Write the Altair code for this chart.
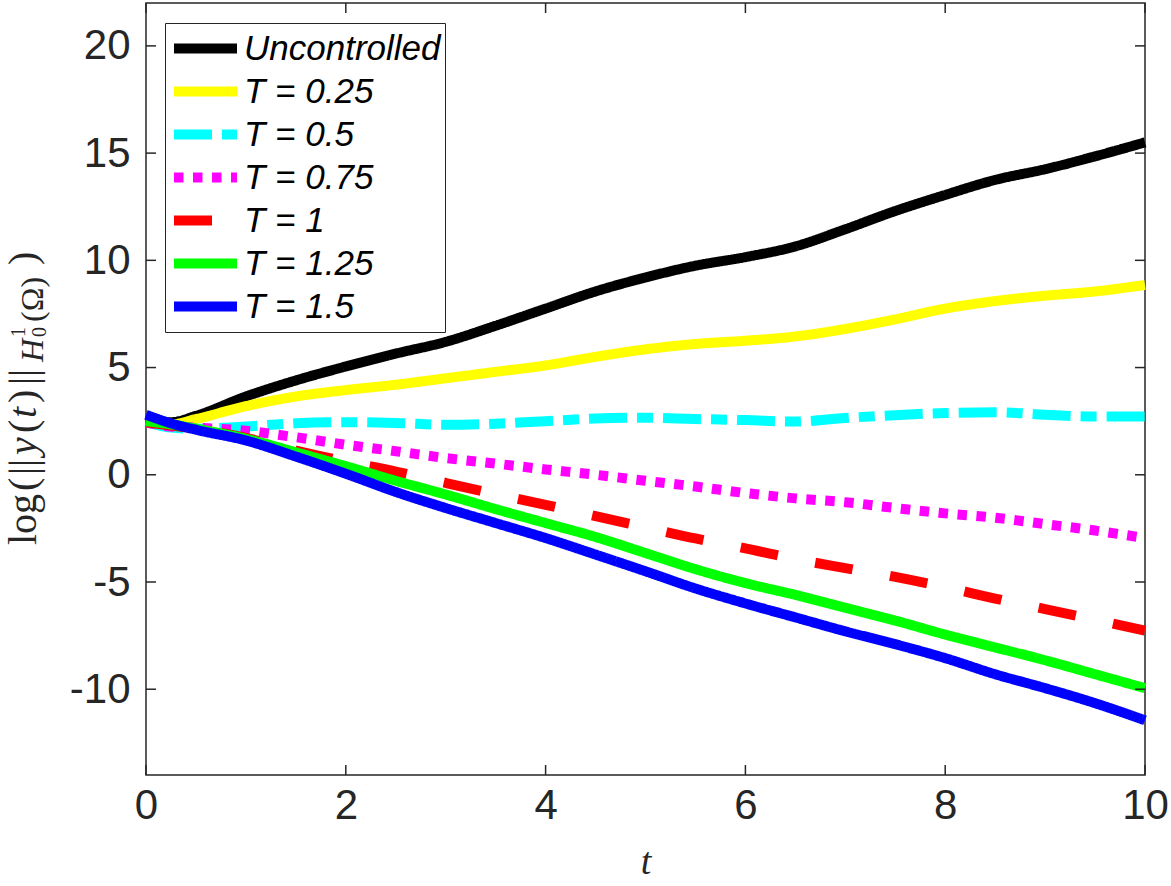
import altair as alt
import pandas as pd

# Time grid and log-norm trajectories for each control horizon
t = [0, 0.25, 0.5, 1, 1.5, 2, 2.5, 3, 3.5, 4, 4.5, 5, 5.5, 6, 6.5, 7, 7.5, 8, 8.5, 9, 9.5, 10]

uncontrolled = [2.5, 2.45, 2.75, 3.65, 4.4, 5.05, 5.65, 6.2, 6.95, 7.75, 8.55, 9.2, 9.75, 10.15,
                10.65, 11.45, 12.3, 13.05, 13.75, 14.25, 14.85, 15.5]
t_025 = [2.45, 2.35, 2.6, 3.2, 3.65, 3.95, 4.2, 4.5, 4.8, 5.1, 5.5, 5.85, 6.1, 6.25, 6.45, 6.8,
         7.25, 7.75, 8.1, 8.35, 8.55, 8.85]
t_05 = [2.45, 2.2, 2.15, 2.25, 2.4, 2.45, 2.42, 2.33, 2.38, 2.5, 2.62, 2.66, 2.6, 2.55, 2.48,
        2.65, 2.78, 2.88, 2.92, 2.8, 2.72, 2.72]
t_075 = [2.45, 2.25, 2.2, 2.05, 1.75, 1.4, 1.1, 0.78, 0.52, 0.25, 0.0, -0.28, -0.55, -0.85, -1.1,
         -1.28, -1.55, -1.8, -2.0, -2.3, -2.6, -2.95]
t_1 = [2.45, 2.3, 2.15, 1.72, 1.13, 0.62, 0.15, -0.38, -0.9, -1.4, -1.93, -2.45, -2.97, -3.43,
       -3.93, -4.35, -4.76, -5.24, -5.77, -6.26, -6.76, -7.27]
t_125 = [2.5, 2.35, 2.15, 1.68, 1.05, 0.4, -0.28, -0.92, -1.6, -2.25, -2.9, -3.65, -4.4, -5.05,
         -5.6, -6.2, -6.8, -7.45, -8.05, -8.65, -9.3, -9.95]
t_15 = [2.8, 2.4, 2.1, 1.6, 0.85, 0.05, -0.8, -1.55, -2.25, -2.95, -3.72, -4.5, -5.3, -6.0,
        -6.65, -7.3, -7.9, -8.55, -9.3, -9.95, -10.65, -11.45]

series_names = ["Uncontrolled", "T = 0.25", "T = 0.5", "T = 0.75", "T = 1", "T = 1.25", "T = 1.5"]
series_values = [uncontrolled, t_025, t_05, t_075, t_1, t_125, t_15]
series_colors = ["#000000", "#FFFF00", "#00FFFF", "#FF00FF", "#FF0000", "#00FF00", "#0000FF"]
series_dashes = [[1, 0], [1, 0], [38, 10, 16, 10], [9.5, 9.5], [38, 38], [1, 0], [1, 0]]

x_ticks = [0, 2, 4, 6, 8, 10]
y_ticks = [-10, -5, 0, 5, 10, 15, 20]

W, H = 999, 772
TICK = 10
AXIS_GREY = "#262626"

rows = []
for name, vals in zip(series_names, series_values):
    for ti, v in zip(t, vals):
        rows.append({"t": ti, "value": v, "series": name})
df = pd.DataFrame(rows)

x_scale = alt.Scale(domain=[0, 10], nice=False)
y_scale = alt.Scale(domain=[-14, 22], nice=False)

lines = alt.Chart(df).mark_line(strokeWidth=10, strokeJoin="round", interpolate="monotone").encode(
    x=alt.X("t:Q", scale=x_scale,
            axis=alt.Axis(values=x_ticks, title="t", ticks=False, domain=False, grid=False,
                          labelFlush=False, labelExpr="'' + datum.value",
                          labelPadding=10, titlePadding=17)),
    y=alt.Y("value:Q", scale=y_scale,
            axis=alt.Axis(values=y_ticks, title=None, ticks=False, domain=False, grid=False,
                          labelFlush=False, labelExpr="'' + datum.value", labelPadding=16)),
    color=alt.Color("series:N", scale=alt.Scale(domain=series_names, range=series_colors),
                    legend=alt.Legend(orient="none", legendX=19, legendY=20, title=None,
                                      symbolType="stroke", symbolSize=63 * 63,
                                      symbolStrokeWidth=10, clipHeight=43, rowPadding=0,
                                      labelOffset=2, padding=4,
                                      labelFont="Liberation Sans", labelFontSize=35,
                                      labelFontStyle="italic", labelColor="#000000",
                                      strokeColor=AXIS_GREY, fillColor="#FFFFFF",
                                      labelLimit=400)),
    strokeDash=alt.StrokeDash("series:N",
                              scale=alt.Scale(domain=series_names, range=series_dashes),
                              legend=None),
    detail="series:N",
)

# Inward tick marks on all four sides of the frame
xt = pd.DataFrame({"t": x_ticks})
yt = pd.DataFrame({"value": y_ticks})

tick_style = dict(color=AXIS_GREY, strokeWidth=1.5)
ticks_bottom = alt.Chart(xt).mark_rule(**tick_style).encode(
    x=alt.X("t:Q", scale=x_scale), y=alt.value(H - TICK), y2=alt.value(H))
ticks_top = alt.Chart(xt).mark_rule(**tick_style).encode(
    x=alt.X("t:Q", scale=x_scale), y=alt.value(0), y2=alt.value(TICK))
ticks_left = alt.Chart(yt).mark_rule(**tick_style).encode(
    y=alt.Y("value:Q", scale=y_scale), x=alt.value(0), x2=alt.value(TICK))
ticks_right = alt.Chart(yt).mark_rule(**tick_style).encode(
    y=alt.Y("value:Q", scale=y_scale), x=alt.value(W - TICK), x2=alt.value(W))

# Y axis title typeset from rotated pieces: (text, start along the axis, baseline offset,
# font size, italic)
ylabel_pieces = [
    ("log", 542, -110, 40, False),
    ("(", 488, -110, 40, False),
    ("||", 472, -110, 40, False),
    ("y", 452, -110, 40, True),
    ("(", 430, -110, 40, False),
    ("t", 415, -110, 40, True),
    (")", 400, -110, 40, False),
    ("||", 382, -110, 40, False),
    ("H", 359, -103, 32, True),
    ("1", 334, -121, 20, False),
    ("0", 334, -100, 20, False),
    ("(\u03a9)", 319, -103, 32, False),
    (")", 262, -110, 40, False),
]


def ylabel_piece(text, pos, base, size, italic):
    return alt.Chart(pd.DataFrame({"s": [text]})).mark_text(
        angle=270, align="left", baseline="alphabetic", font="Liberation Serif",
        fontSize=size, fontStyle="italic" if italic else "normal", color=AXIS_GREY,
    ).encode(text="s:N", x=alt.value(base), y=alt.value(pos))


ylabel_layers = [ylabel_piece(*p) for p in ylabel_pieces]

chart = alt.layer(
    lines, ticks_bottom, ticks_top, ticks_left, ticks_right, *ylabel_layers
).properties(
    width=W, height=H,
    autosize=alt.AutoSizeParams(type="none"),
    padding={"left": 146, "top": 3, "right": 26, "bottom": 111},
    background="#FFFFFF",
).configure_view(
    stroke=AXIS_GREY, strokeWidth=1.5
).configure_axis(
    labelFont="Liberation Sans", labelFontSize=42, labelColor=AXIS_GREY,
    titleFont="Liberation Serif", titleFontSize=38, titleFontStyle="italic",
    titleFontWeight="normal", titleColor=AXIS_GREY,
)

chart.save("out.html", embed_options={"renderer": "svg", "actions": False})
